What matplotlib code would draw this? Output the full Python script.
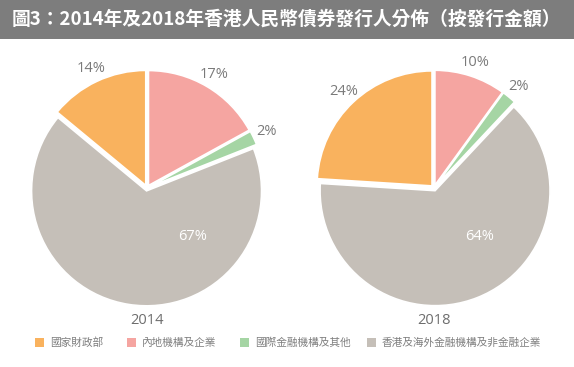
import matplotlib.pyplot as plt
import matplotlib.patches as mpatches
import numpy as np

title = "圖3：2014年及2018年香港人民幣債券發行人分佈（按發行金額）"
# drawn clockwise from 12 o'clock
categories = ["內地機構及企業", "國際金融機構及其他", "香港及海外金融機構及非金融企業", "國家財政部"]
colors = ["#F5A5A1", "#A5D5A4", "#C5BFB8", "#F9B25E"]
years = ["2014", "2018"]
shares_2014 = [17, 2, 67, 14]
shares_2018 = [10, 2, 64, 24]
legend_order = ["國家財政部", "內地機構及企業", "國際金融機構及其他", "香港及海外金融機構及非金融企業"]

W, H = 574, 367
fig = plt.figure(figsize=(W / 100, H / 100), dpi=100)
fig.patch.set_facecolor("white")

# title bar
fig.add_artist(mpatches.Rectangle((0, 1 - 39 / H), 1, 39 / H, transform=fig.transFigure,
                                  facecolor="#7D7D7D", edgecolor="none"))
fig.text(12 / W, 1 - 19 / H, title, color="white", fontsize=13.5, fontweight="bold",
         family=["Noto Sans CJK TC", "DejaVu Sans"], va="center", ha="left")

R = 115  # pie radius in pixels
box = 280
lim = box / (2 * R)
num_font = ["Open Sans", "DejaVu Sans"]


def draw_pie(cx, cy, values, year):
    ax = fig.add_axes([(cx - box / 2) / W, 1 - (cy + box / 2) / H, box / W, box / H])
    wedges, _ = ax.pie(values, colors=colors, startangle=90, counterclock=False,
                       explode=[0.025] * len(values),
                       wedgeprops=dict(edgecolor="white", linewidth=1.2))
    ax.set_xlim(-lim, lim)
    ax.set_ylim(-lim, lim)
    ax.set_aspect("equal")
    ax.axis("off")
    for w, v in zip(wedges, values):
        if v > 50:
            ang = np.deg2rad(-47)
            ax.text(0.58 * np.cos(ang), 0.58 * np.sin(ang), f"{v}%", color="white",
                    fontsize=10.5, family=num_font, ha="center", va="center")
        else:
            ang = np.deg2rad((w.theta1 + w.theta2) / 2)
            ax.text(1.15 * np.cos(ang), 1.15 * np.sin(ang), f"{v}%", color="#7A7A7A",
                    fontsize=10.5, family=num_font, ha="center", va="center")
    fig.text(cx / W, 1 - 320 / H, year, color="#6E6E6E", fontsize=10.5,
             family=num_font, ha="center", va="center")


draw_pie(147, 188, shares_2014, years[0])
draw_pie(434, 188, shares_2018, years[1])

# legend
leg_x = [35, 127, 240, 367]
for name, x in zip(legend_order, leg_x):
    c = colors[categories.index(name)]
    fig.add_artist(mpatches.Rectangle((x / W, 1 - 347 / H), 9 / W, 9 / H, transform=fig.transFigure,
                                      facecolor=c, edgecolor="none"))
    fig.text((x + 15) / W, 1 - 342.5 / H, name, color="#7E7E7E", fontsize=7.7,
             family=["Noto Sans CJK TC", "DejaVu Sans"], va="center", ha="left")

fig.savefig("out.png", dpi=100)
